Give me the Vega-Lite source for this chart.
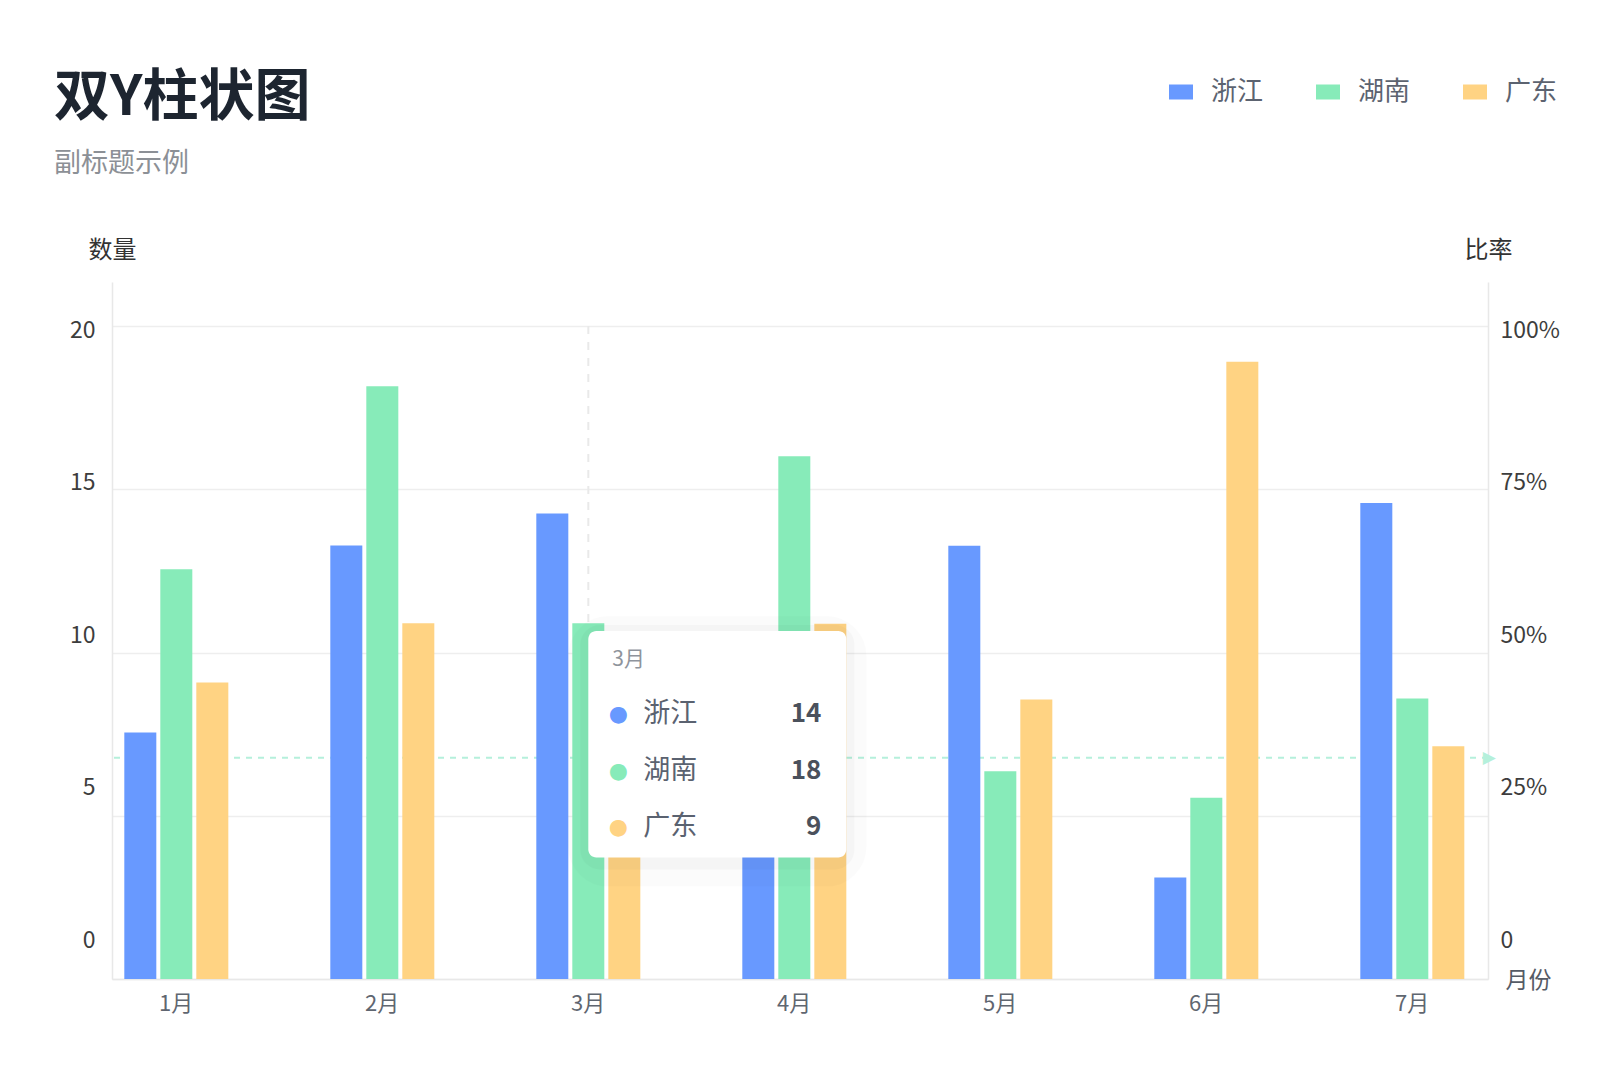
{
  "$schema": "https://vega.github.io/schema/vega-lite/v6.json",
  "width": 1376,
  "height": 697,
  "autosize": "none",
  "padding": {"left": 112, "top": 282, "right": 112, "bottom": 89},
  "background": "white",
  "config": {
    "font": "Noto Sans CJK SC",
    "view": {"stroke": null}
  },
  "title": {
    "text": "双Y柱状图",
    "subtitle": "副标题示例",
    "anchor": "start",
    "frame": "group",
    "dx": -58,
    "offset": -99,
    "fontSize": 56,
    "fontWeight": "bold",
    "color": "#1d2530",
    "subtitleFontSize": 27,
    "subtitleColor": "#8c9096",
    "subtitleFontWeight": "normal",
    "subtitlePadding": 24
  },
  "datasets": {
    "sales": [
      {"month": "1月", "series": "浙江", "value": 7.55},
      {"month": "1月", "series": "湖南", "value": 12.55},
      {"month": "1月", "series": "广东", "value": 9.08},
      {"month": "2月", "series": "浙江", "value": 13.28},
      {"month": "2月", "series": "湖南", "value": 18.16},
      {"month": "2月", "series": "广东", "value": 10.9},
      {"month": "3月", "series": "浙江", "value": 14.26},
      {"month": "3月", "series": "湖南", "value": 10.9},
      {"month": "3月", "series": "广东", "value": 7.0},
      {"month": "4月", "series": "浙江", "value": 8.0},
      {"month": "4月", "series": "湖南", "value": 16.01},
      {"month": "4月", "series": "广东", "value": 10.88},
      {"month": "5月", "series": "浙江", "value": 13.27},
      {"month": "5月", "series": "湖南", "value": 6.36},
      {"month": "5月", "series": "广东", "value": 8.56},
      {"month": "6月", "series": "浙江", "value": 3.11},
      {"month": "6月", "series": "湖南", "value": 5.55},
      {"month": "6月", "series": "广东", "value": 18.91},
      {"month": "7月", "series": "浙江", "value": 14.58},
      {"month": "7月", "series": "湖南", "value": 8.59},
      {"month": "7月", "series": "广东", "value": 7.13}
    ],
    "tip": [
      {"series": "浙江", "value": 14},
      {"series": "湖南", "value": 18},
      {"series": "广东", "value": 9}
    ]
  },
  "layer": [
    {
      "data": {"values": [{}]},
      "layer": [
        {
          "mark": {"type": "rule", "color": "#B5F0DB", "strokeWidth": 2, "strokeDash": [6, 6]},
          "encoding": {
            "y": {
              "datum": 0.339,
              "type": "quantitative",
              "scale": {"domain": [0, 1.0675], "nice": false},
              "axis": {
                "orient": "right",
                "values": [0, 0.25, 0.5, 0.75, 1],
                "labelExpr": "datum.value == 0 ? '0' : format(datum.value, '.0%')",
                "grid": false,
                "ticks": false,
                "domainColor": "#e8e8e8",
                "domainWidth": 1.5,
                "labelFontSize": 23,
                "labelColor": "#3d3d3d",
                "labelPadding": 12,
                "labelOffset": {"expr": "-39 + 43 * datum.value"},
                "title": "比率",
                "titleAngle": 0,
                "titleX": 0,
                "titleY": -32,
                "titleAlign": "center",
                "titleBaseline": "middle",
                "titleFontSize": 24,
                "titleFontWeight": "normal",
                "titleColor": "#333333"
              }
            }
          }
        },
        {
          "mark": {"type": "text", "text": "▶", "font": "DejaVu Sans", "fontSize": 17, "align": "center", "baseline": "middle", "color": "#B5F0DB", "dx": 25},
          "encoding": {
            "x": {"datum": "7月", "type": "nominal", "bandPosition": 1},
            "y": {"datum": 0.339, "type": "quantitative"}
          }
        }
      ]
    },
    {
      "layer": [
        {
          "data": {"values": [{}]},
          "mark": {"type": "rule", "color": "#e9e9e9", "strokeWidth": 2, "strokeDash": [8, 8]},
          "encoding": {
            "x": {"datum": "3月", "type": "nominal"},
            "y": {"datum": 20, "type": "quantitative"},
            "y2": {"datum": 0}
          }
        },
        {
          "data": {"name": "sales"},
          "mark": {"type": "bar"},
          "encoding": {
            "x": {
              "field": "month",
              "type": "nominal",
              "scale": {
                "domain": ["1月", "2月", "3月", "4月", "5月", "6月", "7月"],
                "paddingInner": 0.4951,
                "paddingOuter": 0.08735,
                "align": 0.342
              },
              "axis": {
                "labelAngle": 0,
                "labelFontSize": 22,
                "labelColor": "#5f6670",
                "labelPadding": 24,
                "labelOffset": 17,
                "ticks": false,
                "grid": false,
                "domainColor": "#e8e8e8",
                "domainWidth": 1.5,
                "title": "月份",
                "titleX": 1416,
                "titleY": 1,
                "titleAlign": "center",
                "titleBaseline": "middle",
                "titleFontSize": 23,
                "titleFontWeight": "normal",
                "titleColor": "#555b66"
              }
            },
            "xOffset": {
              "field": "series",
              "type": "nominal",
              "scale": {"domain": ["浙江", "湖南", "广东"], "paddingInner": 0.111, "paddingOuter": 0}
            },
            "y": {
              "field": "value",
              "type": "quantitative",
              "scale": {"domain": [0, 21.35], "nice": false},
              "axis": {
                "orient": "left",
                "values": [0, 5, 10, 15, 20],
                "grid": true,
                "gridColor": "#eeeeee",
                "gridWidth": 1.5,
                "ticks": false,
                "domainColor": "#e8e8e8",
                "domainWidth": 1.5,
                "labelFontSize": 23,
                "labelColor": "#3d3d3d",
                "labelPadding": 17,
                "labelOffset": {"expr": "-39 + 2.15 * datum.value"},
                "title": "数量",
                "titleAngle": 0,
                "titleX": 0,
                "titleY": -32,
                "titleAlign": "center",
                "titleBaseline": "middle",
                "titleFontSize": 24,
                "titleFontWeight": "normal",
                "titleColor": "#333333"
              }
            },
            "color": {
              "field": "series",
              "type": "nominal",
              "scale": {"domain": ["浙江", "湖南", "广东"], "range": ["#6899FF", "#87EBB9", "#FFD383"]},
              "legend": {
                "title": null,
                "orient": "none",
                "legendX": 1056,
                "legendY": -203,
                "direction": "horizontal",
                "symbolType": "M-1,-0.625H1V0.625H-1Z",
                "symbolSize": 576,
                "symbolStrokeWidth": 0,
                "labelFontSize": 26,
                "labelColor": "#5c6370",
                "labelOffset": 17,
                "columnPadding": 51
              }
            }
          }
        },
        {
          "data": {"values": [{}]},
          "mark": {"type": "rect", "color": "#000000", "opacity": 0.012, "stroke": "#000000", "strokeWidth": 40, "cornerRadius": 20},
          "encoding": {
            "x": {"datum": "3月", "type": "nominal", "bandPosition": 0.5},
            "x2": {"datum": "4月", "bandPosition": 1},
            "y": {"datum": 10.5, "type": "quantitative"},
            "y2": {"datum": 3.45}
          }
        },
        {
          "data": {"values": [{}]},
          "mark": {"type": "rect", "color": "#000000", "opacity": 0.018, "stroke": "#000000", "strokeWidth": 16, "cornerRadius": 12},
          "encoding": {
            "x": {"datum": "3月", "type": "nominal", "bandPosition": 0.5},
            "x2": {"datum": "4月", "bandPosition": 1},
            "y": {"datum": 10.6, "type": "quantitative"},
            "y2": {"datum": 3.6}
          }
        },
        {
          "data": {"values": [{}]},
          "mark": {"type": "rect", "color": "#ffffff", "opacity": 1, "cornerRadius": 8},
          "encoding": {
            "x": {"datum": "3月", "type": "nominal", "bandPosition": 0.5},
            "x2": {"datum": "4月", "bandPosition": 1},
            "y": {"datum": 10.66, "type": "quantitative"},
            "y2": {"datum": 3.72}
          }
        },
        {
          "data": {"values": [{}]},
          "mark": {"type": "text", "align": "left", "baseline": "middle", "fontSize": 21, "color": "#8f949c", "dx": 24},
          "encoding": {
            "x": {"datum": "3月", "type": "nominal"},
            "y": {"datum": 9.77, "type": "quantitative"},
            "text": {"value": "3月"}
          }
        }
      ]
    },
    {
      "data": {"name": "tip"},
      "encoding": {
        "x": {"datum": "3月", "type": "nominal"},
        "y": {
          "field": "series",
          "type": "nominal",
          "scale": {"type": "point", "domain": ["浙江", "湖南", "广东"], "range": [432, 545], "padding": 0},
          "axis": null
        }
      },
      "layer": [
        {
          "mark": {"type": "text", "text": "●", "font": "DejaVu Sans", "fontSize": 22, "align": "center", "baseline": "middle", "dx": 30},
          "encoding": {
            "color": {"field": "series", "type": "nominal"}
          }
        },
        {
          "mark": {"type": "text", "align": "left", "baseline": "middle", "fontSize": 27, "color": "#5a6270", "dx": 55},
          "encoding": {"text": {"field": "series"}}
        },
        {
          "mark": {"type": "text", "align": "right", "baseline": "middle", "fontSize": 26, "fontWeight": "bold", "color": "#4b515c", "dx": 233},
          "encoding": {"text": {"field": "value", "type": "quantitative"}}
        }
      ]
    }
  ],
  "resolve": {"scale": {"y": "independent"}}
}
